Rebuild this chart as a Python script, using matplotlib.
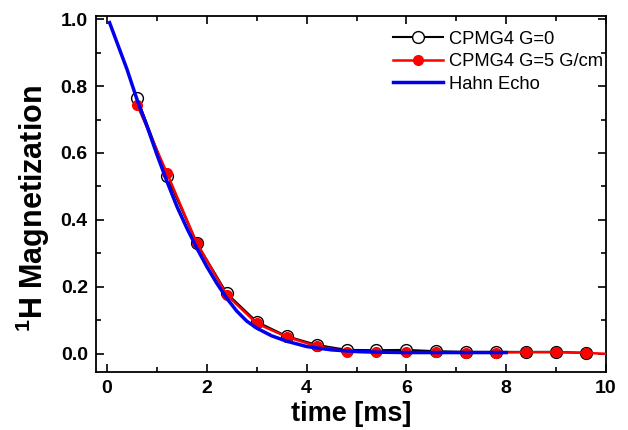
import matplotlib
matplotlib.use("Agg")
import matplotlib.pyplot as plt
from matplotlib.ticker import MultipleLocator

plt.rcParams['font.family'] = ['Liberation Sans', 'DejaVu Sans']

t_cpmg = [0.6, 1.2, 1.8, 2.4, 3.0, 3.6, 4.2, 4.8, 5.4, 6.0, 6.6, 7.2, 7.8, 8.4, 9.0, 9.6]
m_g0 = [0.765, 0.53, 0.33, 0.18, 0.095, 0.052, 0.026, 0.011, 0.01, 0.011, 0.007, 0.005, 0.005, 0.005, 0.005, 0.002]
t_g5 = [0.6, 1.2, 1.8, 2.4, 3.0, 3.6, 4.2, 4.8, 5.4, 6.0, 6.6, 7.2, 7.8, 8.4, 9.0, 9.6, 10.2]
m_g5 = [0.745, 0.54, 0.33, 0.175, 0.09, 0.05, 0.022, 0.006, 0.004, 0.004, 0.004, 0.003, 0.003, 0.004, 0.004, 0.002, -0.002]
t_hahn = [0.05, 0.2, 0.4, 0.6, 0.8, 1.0, 1.2, 1.4, 1.6, 1.8, 2.0, 2.2, 2.4, 2.6, 2.8, 3.0, 3.3, 3.6, 4.0, 4.5, 5.0, 5.5, 6.0, 7.0, 8.0]
m_hahn = [0.99, 0.93, 0.85, 0.76, 0.68, 0.595, 0.515, 0.44, 0.375, 0.315, 0.26, 0.21, 0.165, 0.127, 0.097, 0.076, 0.053, 0.037, 0.021, 0.011, 0.006, 0.004, 0.003, 0.003, 0.003]

fig = plt.figure(figsize=(6.28, 4.30), dpi=100)
ax = fig.add_axes([0.153, 0.135, 0.812, 0.828])

ax.plot(t_cpmg, m_g0, color='black', lw=1.5, marker='o', ms=8.5, mfc='white', mec='black', mew=1.0,
        label='CPMG4 G=0', zorder=2)
ax.plot(t_g5, m_g5, color='red', lw=1.8, marker='o', ms=7, mfc='red', mec='red',
        label='CPMG4 G=5 G/cm', zorder=3)
ax.plot(t_hahn, m_hahn, color='#0000ee', lw=2.5, label='Hahn Echo', zorder=4)

ax.set_xlim(-0.22, 10)
ax.set_ylim(-0.055, 1.01)
ax.xaxis.set_major_locator(MultipleLocator(2))
ax.xaxis.set_minor_locator(MultipleLocator(1))
ax.yaxis.set_major_locator(MultipleLocator(0.2))
ax.yaxis.set_minor_locator(MultipleLocator(0.1))
ax.tick_params(which='both', direction='in', top=True, right=True, width=1.2)
ax.tick_params(which='major', length=6, labelsize=14, pad=6)
ax.tick_params(which='minor', length=3.5)
for lab in ax.get_xticklabels() + ax.get_yticklabels():
    lab.set_fontweight('bold')
for s in ax.spines.values():
    s.set_linewidth(1.3)

ax.set_xlabel('time [ms]', fontsize=19.5, fontweight='bold', labelpad=3)
ax.set_ylabel(r'$\mathregular{^1}$H Magnetization', fontsize=22, fontweight='bold')
ax.yaxis.set_label_coords(-0.087, 0.46)

leg = ax.legend(loc='upper right', frameon=False, fontsize=13.2, handlelength=2.75,
                handletextpad=0.32, labelspacing=0.3, borderaxespad=0.3,
                bbox_to_anchor=(1.0196, 0.995))

fig.savefig('out.png', dpi=100)
